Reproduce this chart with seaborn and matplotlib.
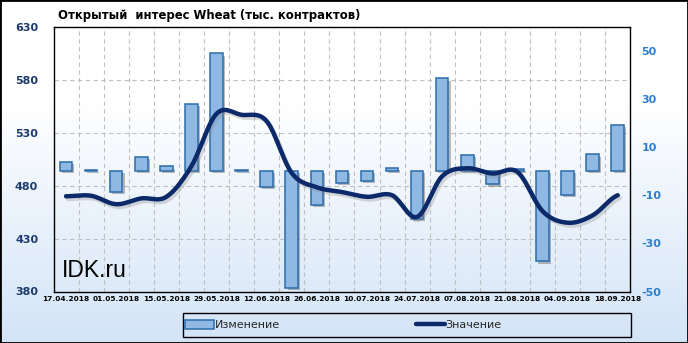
import numpy as np
import pandas as pd
import matplotlib
matplotlib.use("Agg")
import matplotlib.pyplot as plt
import matplotlib.patheffects as pe
from matplotlib.patches import Rectangle, Patch
from matplotlib.lines import Line2D
import seaborn as sns

# ---- data ----
dates = ["17.04.2018", "24.04.2018", "01.05.2018", "08.05.2018", "15.05.2018",
         "22.05.2018", "29.05.2018", "05.06.2018", "12.06.2018", "19.06.2018",
         "26.06.2018", "03.07.2018", "10.07.2018", "17.07.2018", "24.07.2018",
         "31.07.2018", "07.08.2018", "14.08.2018", "21.08.2018", "28.08.2018",
         "04.09.2018", "11.09.2018", "18.09.2018"]
change = [4, 0.5, -8.5, 6, 2, 28, 49, 0.5, -6.5, -48.5, -14, -5, -4, 1.5, -20,
          38.6, 6.7, -5.5, 1.1, -37.5, -10, 7, 19.2]
value = [470, 470.5, 462.5, 468, 469.5, 498.5, 548, 547, 541, 492, 478.5, 474,
         469.5, 471, 450.5, 489, 496.5, 491.5, 493, 456, 445, 452, 471]
left_ticks = [380, 430, 480, 530, 580, 630]
right_ticks = [-50, -30, -10, 10, 30, 50]
title = "Открытый  интерес Wheat (тыс. контрактов)"
legend_labels = ["Изменение", "Значение"]

sns.set_theme(style="white")
plt.rcParams["font.family"] = ["DejaVu Sans"]

W, H = 688, 343
fig = plt.figure(figsize=(W / 100, H / 100), dpi=100)

# background gradient
bg = fig.add_axes([0, 0, 1, 1], zorder=-10)
n = 256
t = np.linspace(0, 1, n)  # 0 top, 1 bottom
k = np.clip((t - 0.3) / 0.7, 0, 1)
top_c = np.array([1.0, 1.0, 1.0])
bot_c = np.array([0xd3, 0xe4, 0xf7]) / 255
grad = top_c[None, :] * (1 - k[:, None]) + bot_c[None, :] * k[:, None]
bg.imshow(grad[:, None, :], aspect="auto", extent=[0, 1, 0, 1])
bg.set_axis_off()

ax_l, ax_b = 53.5 / W, 1 - 291.5 / H
ax_w, ax_h = (630.3 - 53.5) / W, (291.5 - 27) / H
ax = fig.add_axes([ax_l, ax_b, ax_w, ax_h])
ax.patch.set_alpha(0)
ax2 = ax.twinx()
ax2.patch.set_alpha(0)

df = pd.DataFrame({"date": dates, "change": change, "value": value})

# bars (right scale)
sns.barplot(data=df, x="date", y="change", ax=ax, color="#8fb9e3",
            width=0.5, edgecolor="#2b6cab", linewidth=1.1, saturation=1)
for p in ax.patches:
    p.set_path_effects([pe.withSimplePatchShadow(offset=(1.5, -1.5),
                                                 shadow_rgbFace="#555555", alpha=0.4)])
    p.set_zorder(3)

ax.set_xlim(-0.5, len(dates) - 0.5)
ax.set_ylim(-50, 60)
ax.set_yticks(right_ticks)
ax.set_yticklabels([str(v) for v in right_ticks])
ax.yaxis.tick_right()
ax.tick_params(axis="y", which="major", length=0, pad=8, labelsize=8,
               labelcolor="#2a80d0", labelright=True, labelleft=False)
for lab in ax.get_yticklabels():
    lab.set_fontweight("bold")
ax.set_xticks(range(0, len(dates), 2))
ax.set_xticklabels(dates[::2], fontsize=5.3, fontweight="bold", color="black")
ax.tick_params(axis="x", length=0, pad=3)
ax.set_xlabel("")
ax.set_ylabel("")

# grid: vertical between bars, horizontal at left-axis ticks
lo, hi = left_ticks[0], left_ticks[-1]
grid_vals = [-50 + (v - lo) * 110 / (hi - lo) for v in left_ticks[1:-1]]
ax.set_yticks(grid_vals, minor=True)
ax.set_xticks(np.arange(0.5, len(dates) - 0.5, 1), minor=True)
ax.tick_params(which="minor", length=0, labelleft=False, labelright=False)
ax.grid(False)
ax.grid(which="minor", color="#c0c0c0", linestyle=(0, (4, 3)), linewidth=0.8)
ax.set_axisbelow(True)
for s in ax.spines.values():
    s.set_visible(True)
    s.set_color("black")
    s.set_linewidth(1.0)

# line (left scale), smoothed Catmull-Rom for display
yv = np.asarray(value, dtype=float)
xv = np.arange(len(yv), dtype=float)
P = np.concatenate([[yv[0]], yv, [yv[-1]]])
xs, ys = [], []
for i in range(len(yv) - 1):
    p0, p1, p2, p3 = P[i], P[i + 1], P[i + 2], P[i + 3]
    u = np.linspace(0, 1, 20, endpoint=False)
    yy = 0.5 * ((2 * p1) + (-p0 + p2) * u + (2 * p0 - 5 * p1 + 4 * p2 - p3) * u ** 2
                + (-p0 + 3 * p1 - 3 * p2 + p3) * u ** 3)
    xs.extend(xv[i] + u)
    ys.extend(yy)
xs.append(xv[-1])
ys.append(yv[-1])
sns.lineplot(x=xs, y=ys, ax=ax2, color="#0c2a6a", linewidth=3.2, sort=False,
             estimator=None)
for ln in ax2.lines:
    ln.set_solid_capstyle("round")
    ln.set_path_effects([pe.SimpleLineShadow(offset=(1.5, -2), shadow_color="#888888",
                                             alpha=0.3), pe.Normal()])
ax2.set_ylim(lo, hi)
ax2.set_yticks(left_ticks)
ax2.set_yticklabels([str(v) for v in left_ticks])
ax2.yaxis.tick_left()
ax2.tick_params(axis="y", length=0, pad=11, labelsize=8, labelcolor="#1c3a6e",
                labelleft=True, labelright=False)
for lab in ax2.get_yticklabels():
    lab.set_fontweight("bold")
ax2.set_ylabel("")
ax2.grid(False)
for s in ax2.spines.values():
    s.set_visible(False)

# title & watermark
fig.text(58 / W, 1 - 15.5 / H, title, ha="left", va="center", fontsize=8.4,
         fontweight="bold", color="black")
fig.text(62 / W, 1 - 277 / H, "IDK.ru", ha="left", va="baseline", fontsize=16.5,
         family=["Liberation Sans", "DejaVu Sans"], color="black")

# legend
handles = [Patch(facecolor="#8fb9e3", edgecolor="#2b6cab", linewidth=1.1),
           Line2D([0], [0], color="#0c2a6a", linewidth=3.2)]
leg = fig.legend(handles, legend_labels, ncol=2, loc="center left",
                 bbox_to_anchor=(185 / W, 1 - 325 / H),
                 frameon=False, fontsize=8, handlelength=2.6,
                 handleheight=0.9, handletextpad=0.1, borderaxespad=0, borderpad=0,
                 columnspacing=12.2)
fig.patches.append(Rectangle((183 / W, 1 - 337 / H), (631 - 183) / W, 24 / H,
                             transform=fig.transFigure, fill=False,
                             edgecolor="black", linewidth=1.0))

# outer border
fig.patches.append(Rectangle((0, 0), 1, 1, transform=fig.transFigure, fill=False,
                             edgecolor="black", linewidth=2, zorder=100))

fig.savefig("out.png", dpi=100)
